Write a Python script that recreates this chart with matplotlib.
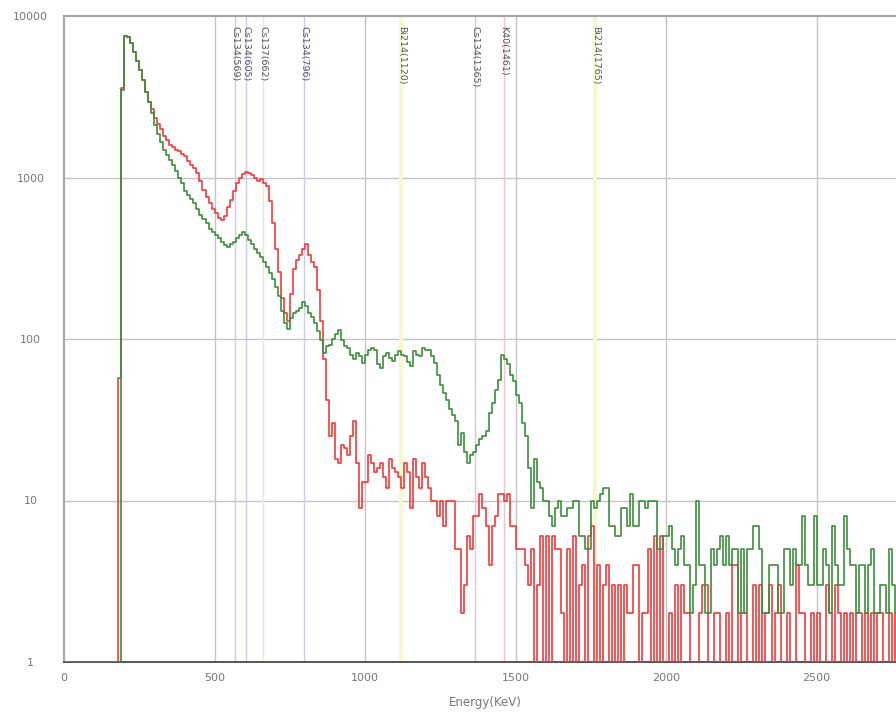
import numpy as np
import matplotlib
matplotlib.use("Agg")
import matplotlib.pyplot as plt
from matplotlib.ticker import NullLocator

# bin width 10 keV, 0..2800 keV
BIN_WIDTH = 10

# counts per bin (red spectrum), rows of 100 keV
red_counts = [
  1, 1, 1, 1, 1, 1, 1, 1, 1, 1,
  1, 1, 1, 1, 1, 1, 1, 1, 57, 3600,
  7500, 7400, 6800, 6000, 5300, 4600, 4000, 3400, 2950, 2650,
  2350, 2150, 2000, 1800, 1700, 1600, 1550, 1480, 1450, 1400,
  1350, 1260, 1200, 1150, 1070, 950, 840, 760, 700, 640,
  600, 565, 545, 580, 660, 730, 820, 930, 990, 1050,
  1080, 1060, 1030, 1000, 950, 980, 920, 880, 720, 520,
  360, 260, 180, 145, 130, 190, 270, 310, 330, 360,
  385, 330, 300, 280, 200, 130, 75, 42, 25, 30,
  18, 17, 22, 21, 19, 25, 31, 17, 9, 13,
  13, 19, 17, 15, 16, 17, 14, 12, 18, 16,
  15, 14, 12, 17, 15, 9, 18, 14, 12, 17,
  14, 12, 10, 10, 8, 10, 7, 10, 10, 10,
  5, 5, 2, 3, 6, 5, 8, 8, 11, 9,
  7, 4, 7, 8, 11, 11, 10, 11, 7, 7,
  5, 5, 5, 4, 3, 5, 0, 3, 6, 0,
  6, 0, 6, 5, 5, 2, 0, 5, 0, 6,
  0, 3, 4, 0, 6, 7, 0, 4, 0, 3,
  4, 0, 3, 0, 3, 0, 3, 2, 2, 4,
  4, 0, 2, 2, 5, 0, 6, 0, 6, 0,
  0, 2, 0, 3, 0, 3, 2, 2, 0, 0,
  0, 2, 3, 3, 0, 0, 2, 2, 0, 0,
  2, 0, 4, 4, 0, 2, 2, 0, 0, 3,
  0, 3, 0, 2, 3, 0, 2, 3, 0, 0,
  2, 0, 0, 4, 2, 2, 0, 0, 2, 0,
  2, 0, 0, 3, 2, 0, 3, 2, 0, 2,
  0, 2, 0, 2, 2, 0, 2, 0, 2, 0,
  2, 2, 0, 0, 2, 0, 2, 0, 2, 0,
]

# counts per bin (green spectrum)
green_counts = [
  1, 1, 1, 1, 1, 1, 1, 1, 1, 1,
  1, 1, 1, 1, 1, 1, 1, 1, 1, 3500,
  7500, 7400, 6800, 6000, 5300, 4600, 4000, 3400, 2950, 2500,
  2100, 1850, 1650, 1480, 1380, 1280, 1200, 1100, 1000, 920,
  830, 780, 740, 700, 640, 590, 550, 520, 480, 460,
  440, 420, 400, 380, 370, 385, 400, 420, 440, 460,
  440, 410, 390, 360, 340, 320, 300, 280, 255, 235,
  210, 185, 150, 125, 115, 135, 145, 150, 155, 170,
  160, 145, 137, 125, 112, 98, 82, 90, 92, 100,
  108, 114, 98, 90, 88, 80, 75, 82, 78, 71,
  80, 85, 88, 86, 70, 66, 78, 82, 76, 73,
  80, 84, 80, 78, 72, 68, 84, 80, 78, 88,
  86, 85, 78, 71, 60, 52, 46, 42, 37, 34,
  31, 22, 26, 20, 17, 19, 20, 22, 24, 25,
  27, 35, 40, 48, 56, 80, 75, 70, 60, 55,
  45, 40, 30, 25, 16, 9, 18, 13, 12, 10,
  10, 8, 7, 9, 10, 8, 8, 9, 9, 10,
  10, 6, 6, 5, 5, 10, 9, 10, 11, 12,
  12, 7, 7, 6, 6, 9, 9, 7, 11, 7,
  7, 10, 10, 9, 10, 10, 10, 5, 5, 6,
  6, 7, 5, 4, 5, 6, 4, 4, 2, 3,
  10, 4, 4, 2, 2, 5, 4, 5, 6, 4,
  6, 4, 5, 5, 2, 5, 2, 5, 5, 7,
  7, 5, 2, 2, 4, 4, 4, 2, 2, 5,
  5, 3, 5, 4, 4, 8, 4, 3, 3, 8,
  3, 3, 5, 4, 2, 7, 4, 3, 3, 8,
  5, 4, 4, 2, 4, 4, 2, 4, 5, 2,
  2, 3, 3, 2, 5, 3, 2, 3, 2, 3,
]

# isotope marker lines
iso_labels = ["Cs134(569)", "Cs134(605)", "Cs137(662)", "Cs134(796)",
              "Bi214(1120)", "Cs134(1365)", "K40(1461)", "Bi214(1765)"]
iso_energy = [569, 605, 662, 796, 1120, 1365, 1461, 1765]
iso_color = {"Cs134": "#c9cbe8", "Cs137": "#e4eec4", "Bi214": "#f8f7cf", "K40": "#f3c3cc"}

y_ticks = [1, 10, 100, 1000, 10000]
x_ticks = [0, 500, 1000, 1500, 2000, 2500]

fig = plt.figure(figsize=(8.96, 7.15), dpi=100)
ax = fig.add_axes([64 / 896, 53 / 715, 843 / 896, 646 / 715])

edges = np.arange(0, len(red_counts) * BIN_WIDTH + 1, BIN_WIDTH)
red_y = red_counts + [red_counts[-1]]
green_y = green_counts + [green_counts[-1]]

ax.set_yscale("log", nonpositive="clip")

# grid lines
for v in [500, 1000, 1500, 2000, 2500]:
  ax.axvline(v, color="#c4c4c4", lw=1, zorder=1)
for v in [10, 100, 1000]:
  ax.axhline(v, color="#c4c4c4", lw=1, zorder=1)

# isotope lines and labels
for name, e in zip(iso_labels, iso_energy):
  iso = name.split("(")[0]
  lw = 3 if iso == "Bi214" else 1
  ax.axvline(e, color=iso_color[iso], lw=lw, zorder=1.5)
  ax.text(e, 0.985, name, rotation=270, ha="center", va="top", fontsize=6.8,
          color="#555555", transform=ax.get_xaxis_transform(), zorder=2)

ax.step(edges, red_y, where="post", color="#f23a3a", lw=1.2, zorder=3)
ax.step(edges, green_y, where="post", color="#3b8f3b", lw=1.2, zorder=4)

ax.set_xlim(0, 2800)
ax.set_ylim(1, 10000)
ax.set_yticks(y_ticks)
ax.set_yticklabels([str(t) for t in y_ticks])
ax.yaxis.set_minor_locator(NullLocator())
ax.set_xticks(x_ticks)
ax.set_xticklabels([str(t) for t in x_ticks])
ax.tick_params(axis="y", length=0, pad=24, labelsize=8, labelcolor="#777777")
ax.tick_params(axis="x", length=0, pad=8, labelsize=8, labelcolor="#777777")
for lab in ax.get_yticklabels():
  lab.set_horizontalalignment("center")

ax.set_xlabel("Energy(KeV)", fontsize=8.5, color="#777777", labelpad=9)

for s in ["top", "left", "right"]:
  ax.spines[s].set_color("#a8a8a8")
  ax.spines[s].set_linewidth(1.6)
ax.spines["bottom"].set_color("#555555")
ax.spines["bottom"].set_linewidth(1.4)

fig.savefig("out.png", dpi=100)
